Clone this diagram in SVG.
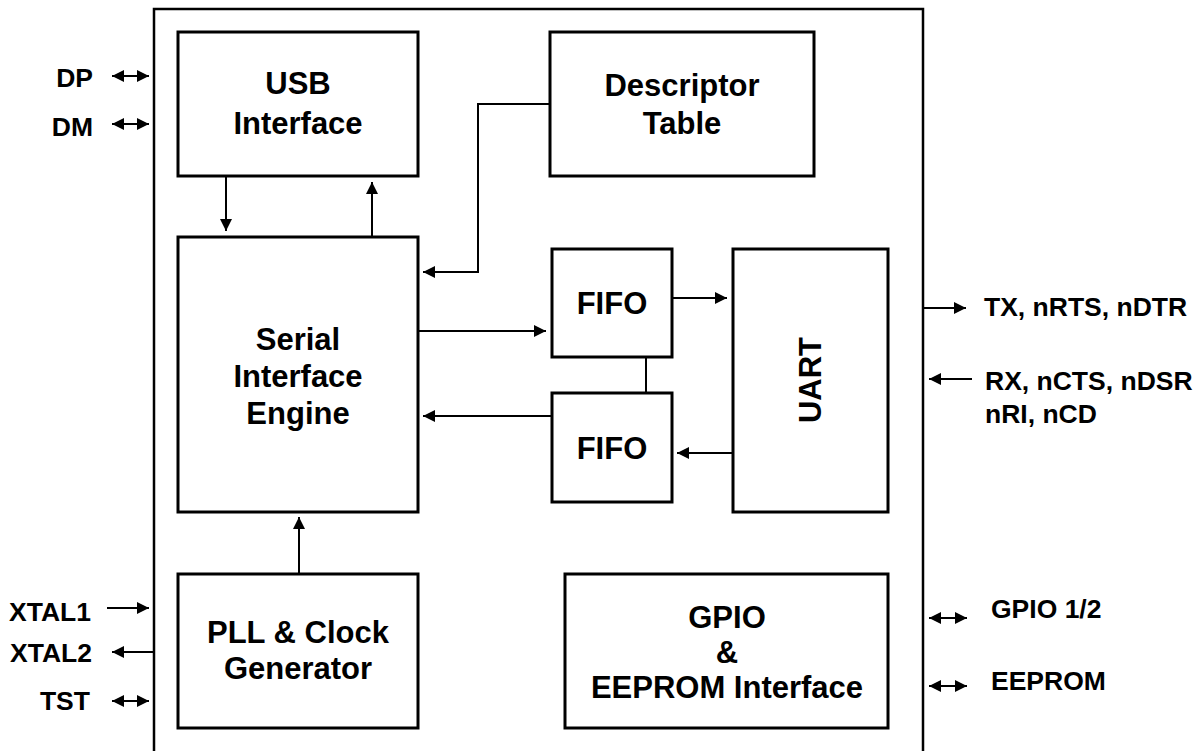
<svg xmlns="http://www.w3.org/2000/svg" width="1201" height="751" viewBox="0 0 1201 751">
<style>
.box{fill:#fff;stroke:#000;stroke-width:3}
.ln{fill:none;stroke:#000;stroke-width:2}
.t{font-family:"Liberation Sans",Arial,Helvetica,sans-serif;font-weight:bold;font-size:31px;fill:#000;text-anchor:middle}
.s{font-family:"Liberation Sans",Arial,Helvetica,sans-serif;font-weight:bold;font-size:26.5px;fill:#000}
</style>
<defs>
<marker id="ah" markerUnits="userSpaceOnUse" markerWidth="14" markerHeight="12" refX="12" refY="6" orient="auto-start-reverse"><path d="M0,0 L12,6 L0,12 Z" fill="#000"/></marker>
<marker id="as" markerUnits="userSpaceOnUse" markerWidth="14" markerHeight="12" refX="12" refY="6" orient="auto-start-reverse"><path d="M0,0 L12,6 L0,12 Z" fill="#000"/></marker>
</defs>
<rect x="0" y="0" width="1201" height="751" fill="#fff"/>
<g id="chip"><path class="ln" style="stroke-width:2.5" d="M154,760 V9 H923 V760"/></g>
<g id="usb"><rect class="box" x="178" y="32" width="240" height="144"/><text class="t" x="298" y="94">USB</text><text class="t" x="298" y="134">Interface</text></g>
<g id="desc"><rect class="box" x="550" y="32" width="264" height="144"/><text class="t" x="682" y="96">Descriptor</text><text class="t" x="682" y="134">Table</text></g>
<g id="sie"><rect class="box" x="178" y="237" width="240" height="275"/><text class="t" x="298" y="350">Serial</text><text class="t" x="298" y="387">Interface</text><text class="t" x="298" y="424">Engine</text></g>
<g id="fifo1"><rect class="box" x="552" y="249" width="120" height="108"/><text class="t" x="612" y="314">FIFO</text></g>
<g id="fifo2"><rect class="box" x="552" y="393" width="120" height="109"/><text class="t" x="612" y="459">FIFO</text></g>
<g id="uart"><rect class="box" x="733" y="249" width="155" height="263"/><text class="t" transform="translate(821,380) rotate(-90)">UART</text></g>
<g id="pll"><rect class="box" x="178" y="574" width="240" height="154"/><text class="t" x="298" y="643">PLL &amp; Clock</text><text class="t" x="298" y="679">Generator</text></g>
<g id="gpio"><rect class="box" x="565" y="574" width="323" height="154"/><text class="t" x="727" y="628">GPIO</text><text class="t" x="727" y="663">&amp;</text><text class="t" x="727" y="698">EEPROM Interface</text></g>
<g id="connectors">
<path class="ln" marker-end="url(#ah)" d="M226,176 V231"/>
<path class="ln" marker-end="url(#ah)" d="M372,237 V182"/>
<path class="ln" marker-end="url(#ah)" d="M550,104 H478 V272 H423"/>
<path class="ln" marker-end="url(#ah)" d="M418,331 H546"/>
<path class="ln" marker-end="url(#ah)" d="M552,416 H423"/>
<path class="ln" d="M646,357 V393"/>
<path class="ln" marker-end="url(#ah)" d="M672,298 H727"/>
<path class="ln" marker-end="url(#ah)" d="M733,453 H677"/>
<path class="ln" marker-end="url(#ah)" d="M299,574 V517"/>
<path class="ln" marker-start="url(#as)" marker-end="url(#as)" d="M112,76 H149"/>
<path class="ln" marker-start="url(#as)" marker-end="url(#as)" d="M112,124 H149"/>
<path class="ln" marker-end="url(#as)" d="M107,608 H149"/>
<path class="ln" marker-end="url(#as)" d="M154,652 H112"/>
<path class="ln" marker-start="url(#as)" marker-end="url(#as)" d="M112,701 H149"/>
<path class="ln" marker-end="url(#as)" d="M923,308 H966"/>
<path class="ln" marker-end="url(#as)" d="M972,379 H929"/>
<path class="ln" marker-start="url(#as)" marker-end="url(#as)" d="M929,618 H967"/>
<path class="ln" marker-start="url(#as)" marker-end="url(#as)" d="M929,686 H967"/>
</g>
<g id="labels">
<text class="s" x="93" y="87" text-anchor="end">DP</text>
<text class="s" x="93" y="136" text-anchor="end">DM</text>
<text class="s" x="91" y="621" text-anchor="end">XTAL1</text>
<text class="s" x="92" y="662" text-anchor="end">XTAL2</text>
<text class="s" x="90" y="710" text-anchor="end">TST</text>
<text class="s" x="984" y="316">TX, nRTS, nDTR</text>
<text class="s" x="985" y="390">RX, nCTS, nDSR</text>
<text class="s" x="985" y="423">nRI, nCD</text>
<text class="s" x="991" y="618">GPIO 1/2</text>
<text class="s" x="991" y="690">EEPROM</text>
</g>
</svg>
